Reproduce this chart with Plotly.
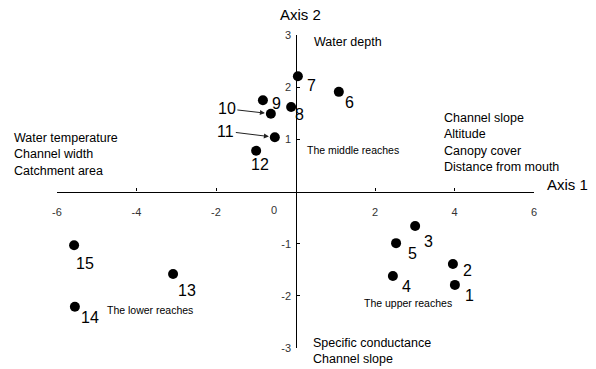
import plotly.graph_objects as go

# ---- data ----
site_labels = ["1", "2", "3", "4", "5", "6", "7", "8", "9", "10", "11", "12", "13", "14", "15"]
axis1_scores = [4.01, 3.96, 3.01, 2.45, 2.53, 1.09, 0.06, -0.11, -0.82, -0.62, -0.52, -0.99, -3.08, -5.55, -5.57]
axis2_scores = [-1.79, -1.39, -0.66, -1.62, -0.99, 1.91, 2.21, 1.62, 1.75, 1.49, 1.04, 0.78, -1.58, -2.21, -1.03]
x_ticks = [-6, -4, -2, 2, 4, 6]
y_ticks = [-3, -2, -1, 1, 2, 3]
origin_label = "0"

FONT = "Liberation Sans, Arial, sans-serif"
NBSP = "\u00a0"

# label offsets (pixels): (dx, dy_down)
label_offsets = {
    "1": (15, 11), "2": (15, 6), "3": (13, 16), "4": (14, 10), "5": (16, 10),
    "6": (11, 11), "7": (14, 9), "8": (8, 8), "9": (14, 3), "12": (4, 14),
    "13": (14, 17), "14": (15, 11), "15": (11, 18),
}
arrow_offsets = {"10": (-44, -5), "11": (-49, -6)}

fig = go.Figure()
fig.add_trace(go.Scatter(
    x=axis1_scores, y=axis2_scores, mode="markers",
    marker=dict(color="black", size=10), hoverinfo="skip", showlegend=False,
))
# origin "0" label, placed below-left of the axes crossing
fig.add_trace(go.Scatter(
    x=[0], y=[0], mode="text",
    text=["<br>" + origin_label + NBSP * 6],
    textposition="bottom left", cliponaxis=False,
    textfont=dict(family=FONT, size=11, color="#333"),
    hoverinfo="skip", showlegend=False,
))

annotations = []
for lab, x, y in zip(site_labels, axis1_scores, axis2_scores):
    if lab in arrow_offsets:
        ax, ay = arrow_offsets[lab]
        annotations.append(dict(
            x=x, y=y, xref="x", yref="y", text=lab, showarrow=True,
            ax=ax, ay=ay, arrowhead=2, arrowsize=1, arrowwidth=1,
            arrowcolor="#222", standoff=6,
            font=dict(family=FONT, size=16, color="black"),
        ))
    else:
        dx, dy = label_offsets[lab]
        annotations.append(dict(
            x=x, y=y, xref="x", yref="y", text=lab, showarrow=False,
            xshift=dx, yshift=-dy,
            font=dict(family=FONT, size=16, color="black"),
        ))

def txt(text, x, y, size=12.5, xanchor="left", yanchor="middle", color="black"):
    annotations.append(dict(
        x=x, y=y, xref="paper", yref="paper", text=text, showarrow=False,
        xanchor=xanchor, yanchor=yanchor, align="left",
        font=dict(family=FONT, size=size, color=color),
    ))

txt("Axis 2", 0.5115, 1.064, size=15, xanchor="center")
txt("Axis 1", 1.023, 0.521, size=15)
txt("Water depth", 0.535, 0.978)
txt("The middle reaches", 0.520, 0.633, size=10.5)
txt("Channel slope<br>Altitude<br>Canopy cover<br>Distance from mouth", 0.807, 0.658)
txt("Water temperature<br>Channel width<br>Catchment area", -0.094, 0.618)
txt("Specific conductance<br>Channel slope", 0.533, -0.011)
txt("The upper reaches", 0.640, 0.144, size=10.5)
txt("The lower reaches", 0.101, 0.121, size=10.5)

fig.update_layout(
    width=596, height=369,
    margin=dict(l=57, r=62, t=35, b=21),
    paper_bgcolor="white", plot_bgcolor="white",
    annotations=annotations,
    xaxis=dict(
        range=[-6, 6], anchor="free", position=0.5,
        showline=True, linecolor="black", linewidth=1.3,
        ticks="inside", ticklen=3, tickcolor="black",
        tickvals=x_ticks, ticktext=[str(v) for v in x_ticks],
        showgrid=False, zeroline=False, ticklabelstandoff=10,
        tickfont=dict(family=FONT, size=11, color="#333"),
        automargin=False,
    ),
    yaxis=dict(
        range=[-3, 3], anchor="free", position=0.5,
        showline=True, linecolor="black", linewidth=1.3,
        ticks="inside", ticklen=3, tickcolor="black",
        tickvals=y_ticks, ticktext=[str(v) for v in y_ticks],
        showgrid=False, zeroline=False, ticklabelstandoff=2,
        tickfont=dict(family=FONT, size=11, color="#333"),
        automargin=False,
    ),
)

fig.write_html(
    "out.html",
    config={"displayModeBar": False},
    post_script="document.body.style.margin='0';document.body.style.padding='0';",
)
